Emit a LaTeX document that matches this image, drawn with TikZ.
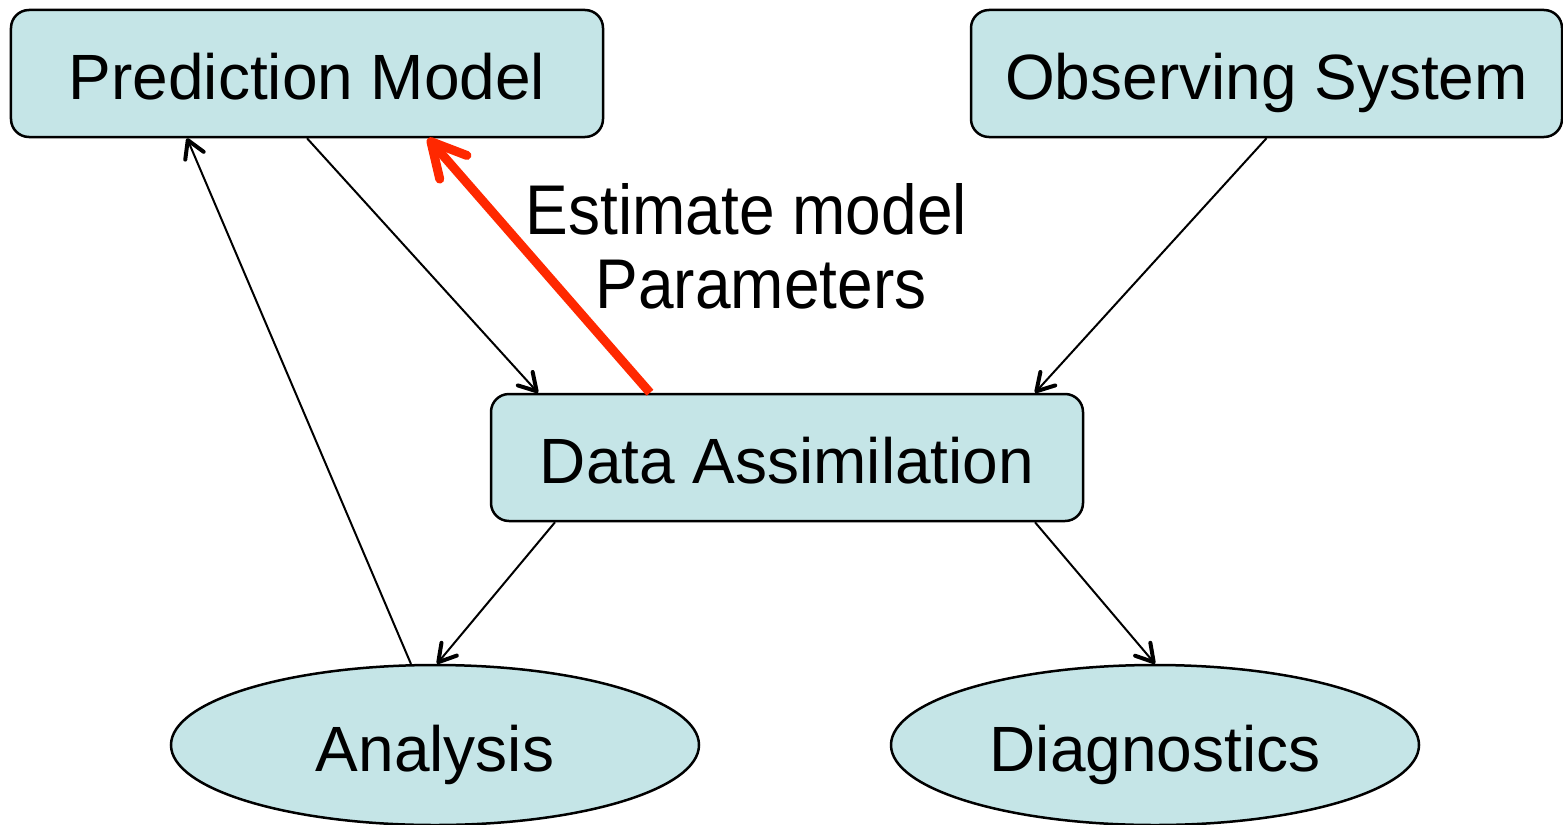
\documentclass[tikz,border=0pt]{standalone}
\usepackage{fontspec}
\setmainfont{Liberation Sans}
\usetikzlibrary{arrows.meta,shapes.geometric}
\definecolor{boxfill}{RGB}{197,229,231}
\definecolor{hotred}{RGB}{255,40,0}
\begin{document}
\begin{tikzpicture}[x=1bp,y=-1bp,
  every node/.style={font=\fontsize{64bp}{76bp}\selectfont, text height=52bp, text depth=0pt},
  stage/.style={draw=black, line width=2.5bp, fill=boxfill, rounded corners=18bp,
    rectangle, minimum width=592bp, minimum height=127bp, inner sep=0pt},
  product/.style={draw=black, line width=2.5bp, fill=boxfill, ellipse,
    minimum width=528bp, minimum height=160bp, inner sep=0pt},
  flow/.style={line width=2bp, -{Straight Barb[length=17bp,width=20bp,line width=4bp,round]}},
  feedback/.style={hotred, line width=9bp, -{Straight Barb[length=34bp,width=36bp,line width=9bp,round]}},
  caption/.style={anchor=base, inner sep=0pt, text height=, text depth=,
    font=\fontsize{64bp}{77bp}\selectfont}
]
\useasboundingbox (0,0) rectangle (1563,824);

% boxes
\node[stage] (pm) at (307,73.5) {Prediction Model};
\node[stage, minimum width=591bp] (os) at (1266.5,73.5) {Observing System};
\node[stage] (da) at (787,457.5) {Data Assimilation};
\node[product] (an) at (435,745) {Analysis};
\node[product] (dg) at (1155,745) {Diagnostics};

% labels of the feedback arrow
\node[caption] (capA) at (746.5,234) {\scalebox{1}[1.1]{Estimate model}};
\node[caption] (capB) at (761,308) {\scalebox{1}[1.1]{Parameters}};

% connectors
\draw[flow] (pm.south) -- ([xshift=-249bp]da.north);
\draw[flow] (os.south) -- ([xshift=248bp]da.north);
\draw[flow] ([xshift=-232bp]da.south) -- ([xshift=2bp]an.north);
\draw[flow] ([xshift=248bp]da.south) -- (dg.north);
\draw[flow] ([xshift=-24bp,yshift=-0.3bp]an.north) -- ([xshift=-120bp]pm.south);
\draw[feedback] ([xshift=-137bp]da.north) -- ([xshift=121bp]pm.south);
\end{tikzpicture}
\end{document}
